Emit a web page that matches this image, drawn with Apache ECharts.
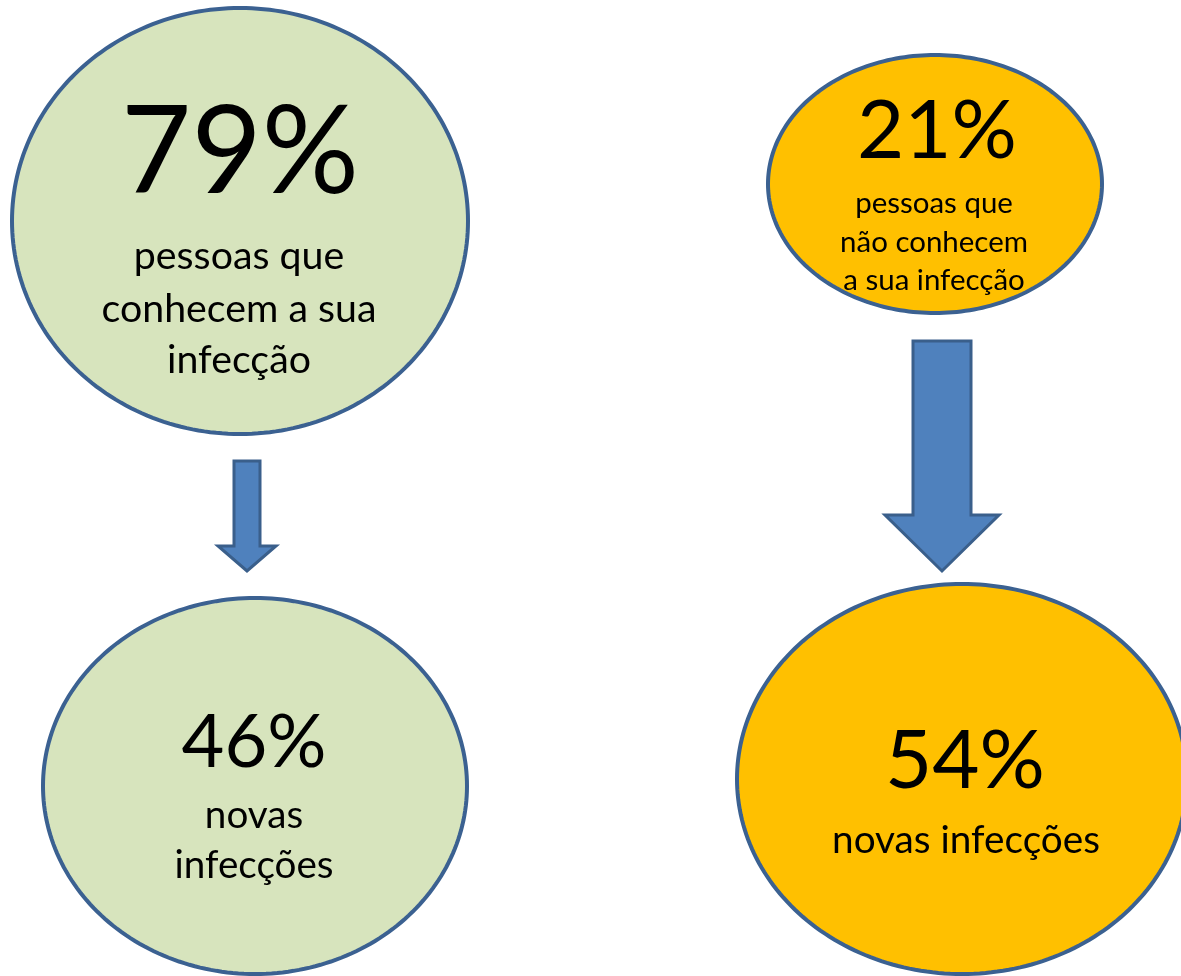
<!DOCTYPE html>
<html>
<head>
<meta charset="utf-8">
<script src="https://cdn.jsdelivr.net/npm/echarts@6/dist/echarts.min.js"></script>
<style>
html,body{margin:0;padding:0;background:#fff;}
#chart{width:1181px;height:976px;}
</style>
</head>
<body>
<div id="chart"></div>
<script>
// ---- data ----
const categories = ['Conhecem a sua infecção', 'Não conhecem a sua infecção'];
const pctPeople = [79, 21];
const pctNewInfections = [46, 54];
const peopleText = [['pessoas que', 'conhecem a sua', 'infecção'], ['pessoas que', 'não conhecem', 'a sua infecção']];
const infectionText = [['novas', 'infecções'], ['novas infecções']];

// ---- layout (pixel space of the hidden axes) ----
const FONT = 'Lato';
const layout = {
  people: [
    { cx: 240, cy: 221, rx: 228, ry: 213, fill: '#D7E4BD', pctX: 240, pctBase: 193, pctW: 238, lblX: 239, lblBase: [269, 322, 373], lblW: 275 },
    { cx: 935, cy: 184, rx: 167, ry: 129, fill: '#FFC000', pctX: 937, pctBase: 158, pctW: 160, lblX: 934, lblBase: [213, 252, 290], lblW: 188 }
  ],
  infections: [
    { cx: 255, cy: 786, rx: 212, ry: 188, fill: '#D7E4BD', pctX: 254, pctBase: 767, pctW: 145, lblX: 254, lblBase: [828, 878], lblW: 159 },
    { cx: 962, cy: 779, rx: 225, ry: 195, fill: '#FFC000', pctX: 965, pctBase: 788, pctW: 160, lblX: 966, lblBase: [853], lblW: 268 }
  ],
  arrows: [
    { cx: 247, top: 461, headY: 546, tip: 571, sw: 13, hw: 29 },
    { cx: 942, top: 341, headY: 515, tip: 571, sw: 29, hw: 57 }
  ]
};
const MID = 0.32; // canvas 'middle' offset above baseline, in em

const mctx = document.createElement('canvas').getContext('2d');
function fitSize(lines, target) {
  mctx.font = '100px ' + FONT;
  const w = Math.max.apply(null, lines.map(l => mctx.measureText(l).width));
  return target / w * 100;
}

function ellipsePts(c, rx, ry) {
  const pts = [];
  for (let k = 0; k < 240; k++) {
    const a = k / 240 * Math.PI * 2;
    pts.push([c[0] + rx * Math.cos(a), c[1] + ry * Math.sin(a)]);
  }
  return pts;
}

function makeBubble(L, pct, lines, api) {
  const c = api.coord([L.cx, L.cy]);
  const s = api.size([L.rx, L.ry]);
  const children = [{
    type: 'polygon',
    shape: { points: ellipsePts(c, s[0], s[1]) },
    style: { fill: L.fill, stroke: '#3B6191', lineWidth: 4 }
  }];
  const pctText = pct + '%';
  const ps = fitSize([pctText], L.pctW);
  const pp = api.coord([L.pctX, L.pctBase]);
  children.push({
    type: 'text',
    style: { text: pctText, x: pp[0], y: pp[1] - MID * ps, fontSize: ps, fontFamily: FONT, fill: '#000', align: 'center', verticalAlign: 'middle' }
  });
  const ls = fitSize(lines, L.lblW);
  lines.forEach((t, j) => {
    const lp = api.coord([L.lblX, L.lblBase[j]]);
    children.push({
      type: 'text',
      style: { text: t, x: lp[0], y: lp[1] - MID * ls, fontSize: ls, fontFamily: FONT, fill: '#000', align: 'center', verticalAlign: 'middle' }
    });
  });
  return { type: 'group', children: children };
}

const chart = echarts.init(document.getElementById('chart'), null, { renderer: 'canvas' });
chart.setOption({
  backgroundColor: '#ffffff',
  animation: false,
  grid: { left: 0, right: 0, top: 0, bottom: 0 },
  xAxis: { type: 'value', min: 0, max: 1181, show: false },
  yAxis: { type: 'value', min: 0, max: 976, inverse: true, show: false },
  series: [
    {
      name: 'Pessoas',
      type: 'custom',
      clip: false,
      data: pctPeople.map((v, i) => [i, v]),
      renderItem: (params, api) => {
        const i = api.value(0);
        return makeBubble(layout.people[i], api.value(1), peopleText[i], api);
      }
    },
    {
      name: 'Setas',
      type: 'custom',
      data: categories.map((c, i) => [i]),
      renderItem: (params, api) => {
        const A = layout.arrows[api.value(0)];
        const p = [
          [A.cx - A.sw, A.top], [A.cx + A.sw, A.top], [A.cx + A.sw, A.headY], [A.cx + A.hw, A.headY],
          [A.cx, A.tip], [A.cx - A.hw, A.headY], [A.cx - A.sw, A.headY]
        ].map(q => api.coord(q));
        return { type: 'polygon', shape: { points: p }, style: { fill: '#4F81BD', stroke: '#3A5F8B', lineWidth: 3, lineJoin: 'miter' } };
      }
    },
    {
      name: 'Novas infecções',
      type: 'custom',
      clip: false,
      data: pctNewInfections.map((v, i) => [i, v]),
      renderItem: (params, api) => {
        const i = api.value(0);
        return makeBubble(layout.infections[i], api.value(1), infectionText[i], api);
      }
    }
  ]
});
</script>
</body>
</html>
